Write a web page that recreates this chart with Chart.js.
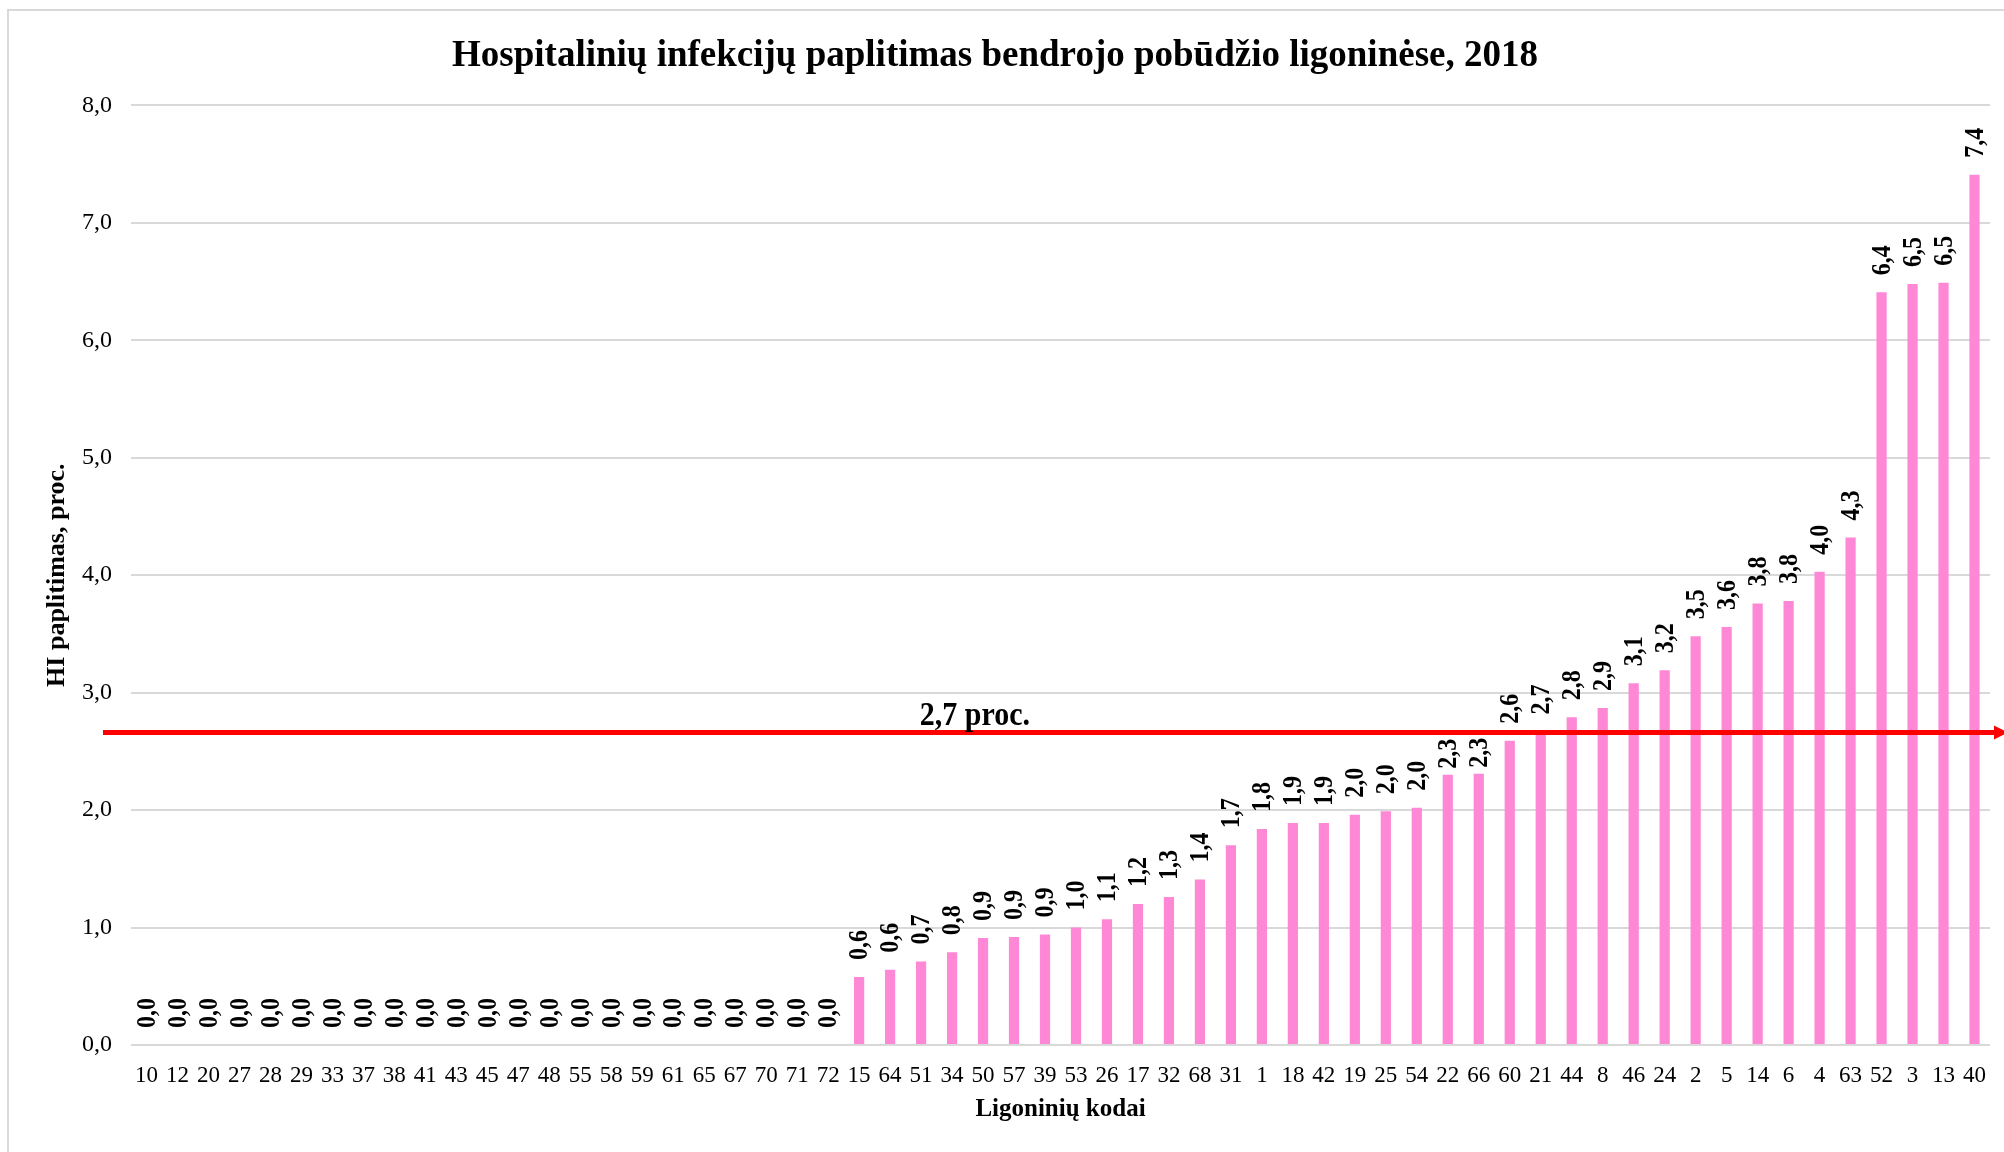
<!DOCTYPE html>
<html>
<head>
<meta charset="utf-8">
<script src="https://cdn.jsdelivr.net/npm/chart.js@4/dist/chart.umd.min.js"></script>
<style>
    body { margin: 0; background: #fff; }
    canvas { display: block; }
</style>
</head>
<body>
<canvas id="chartBar" width="2004" height="1152"></canvas>
<script>
var codes = ['10', '12', '20', '27', '28', '29', '33', '37', '38', '41', '43', '45', '47', '48', '55', '58', '59', '61', '65', '67', '70', '71', '72',
    '15', '64', '51', '34', '50', '57', '39', '53', '26', '17', '32', '68', '31', '1', '18', '42', '19', '25', '54', '22', '66',
    '60', '21', '44', '8', '46', '24', '2', '5', '14', '6', '4', '63', '52', '3', '13', '40'];

var prevalence = [0, 0, 0, 0, 0, 0, 0, 0, 0, 0, 0, 0, 0, 0, 0, 0, 0, 0, 0, 0, 0, 0, 0,
    0.58, 0.64, 0.71, 0.79, 0.91, 0.92, 0.94, 1.0, 1.07, 1.2, 1.26, 1.41, 1.7, 1.84, 1.89, 1.89, 1.96, 1.99, 2.02, 2.3, 2.31,
    2.59, 2.67, 2.79, 2.87, 3.08, 3.19, 3.48, 3.56, 3.76, 3.78, 4.03, 4.32, 6.41, 6.48, 6.49, 7.41];

var yTicks = [0, 1, 2, 3, 4, 5, 6, 7, 8];
var average = 2.66;
var averageLabel = '2,7 proc.';

var serif = "'Liberation Serif', 'Times New Roman', serif";

function comma(v) {
    return v.toFixed(1).replace('.', ',');
}

var frame = {
    id: 'frame',
    beforeDraw: function (chart) {
        var ctx = chart.ctx;
        ctx.save();
        ctx.strokeStyle = '#d9d9d9';
        ctx.lineWidth = 2;
        ctx.strokeRect(8, 10, chart.width + 20, chart.height + 20);
        ctx.restore();
    }
};

// rotated bold values above the bars, pushed down when they would hit the red line
var valueLabels = {
    id: 'valueLabels',
    afterDatasetsDraw: function (chart) {
        var ctx = chart.ctx;
        var meta = chart.getDatasetMeta(0);
        var lineY = chart.scales.y.getPixelForValue(average);
        ctx.save();
        ctx.font = "bold 24px " + serif;
        ctx.fillStyle = '#000';
        ctx.textAlign = 'left';
        ctx.textBaseline = 'middle';
        meta.data.forEach(function (bar, i) {
            var text = comma(prevalence[i]);
            var len = ctx.measureText(text).width;
            var gap = 17;
            if (bar.y - gap > lineY - 3 && bar.y - gap - len < lineY + 3) {
                gap = 6;
            }
            ctx.save();
            ctx.translate(bar.x, bar.y - gap);
            ctx.rotate(-Math.PI / 2);
            ctx.scale(1, 1.15);
            ctx.fillText(text, 0, 1);
            ctx.restore();
        });
        ctx.restore();
    }
};

var averageLine = {
    id: 'averageLine',
    afterDatasetsDraw: function (chart) {
        var ctx = chart.ctx;
        var area = chart.chartArea;
        var y = chart.scales.y.getPixelForValue(average);
        ctx.save();
        ctx.strokeStyle = '#ff0000';
        ctx.fillStyle = '#ff0000';
        ctx.lineWidth = 5;
        ctx.beginPath();
        ctx.moveTo(area.left - 28, y);
        ctx.lineTo(chart.width - 6, y);
        ctx.stroke();
        ctx.beginPath();
        ctx.moveTo(chart.width - 10, y - 7);
        ctx.lineTo(chart.width + 4, y);
        ctx.lineTo(chart.width - 10, y + 7);
        ctx.closePath();
        ctx.fill();
        ctx.font = "bold 30px " + serif;
        ctx.fillStyle = '#000';
        ctx.textAlign = 'center';
        ctx.textBaseline = 'alphabetic';
        ctx.translate(area.left + area.width * 0.454, y - 8);
        ctx.scale(1, 1.1);
        ctx.fillText(averageLabel, 0, 0);
        ctx.restore();
    }
};

var bar = document.getElementById("chartBar");

new Chart(bar, {
    type: "bar",
    plugins: [frame, valueLabels, averageLine],
    options: {
        responsive: false,
        animation: false,
        layout: {
            padding: { left: 0, right: 14, top: 0, bottom: 0 }
        },
        plugins: {
            title: {
                display: true,
                text: "Hospitalinių infekcijų paplitimas bendrojo pobūdžio ligoninėse, 2018",
                color: '#000',
                font: { family: serif, size: 37, weight: 'bold' },
                padding: { top: 34, bottom: 27 }
            },
            legend: {
                display: false
            },
            tooltip: {
                enabled: false
            }
        },
        scales: {
            x: {
                grid: { display: false },
                border: { display: false },
                ticks: {
                    autoSkip: false,
                    maxRotation: 0,
                    minRotation: 0,
                    color: '#000',
                    padding: 9,
                    font: { family: serif, size: 23 }
                },
                title: {
                    display: true,
                    text: "Ligoninių kodai",
                    color: '#000',
                    font: { family: serif, size: 25, weight: 'bold' },
                    padding: { top: 6, bottom: 27 }
                },
                afterFit: function (scale) {
                    scale.height = 107;
                }
            },
            y: {
                min: 0,
                max: 8,
                afterBuildTicks: function (scale) {
                    scale.ticks = yTicks.map(function (v) { return { value: v }; });
                },
                grid: {
                    color: '#d9d9d9',
                    lineWidth: 2,
                    drawTicks: false
                },
                border: { display: false },
                ticks: {
                    color: '#000',
                    padding: 19,
                    font: { family: serif, size: 24 },
                    callback: function (v) { return comma(v); }
                },
                title: {
                    display: true,
                    text: "HI paplitimas, proc.",
                    color: '#000',
                    font: { family: serif, size: 26, weight: 'bold' },
                    padding: { top: 42, bottom: 6 }
                },
                afterFit: function (scale) {
                    scale.width = 131;
                }
            }
        }
    },
    data: {
        labels: codes,
        datasets: [{
            data: prevalence,
            backgroundColor: '#ff88d6',
            barPercentage: 0.33,
            categoryPercentage: 1
        }]
    }
});
</script>
</body>
</html>
